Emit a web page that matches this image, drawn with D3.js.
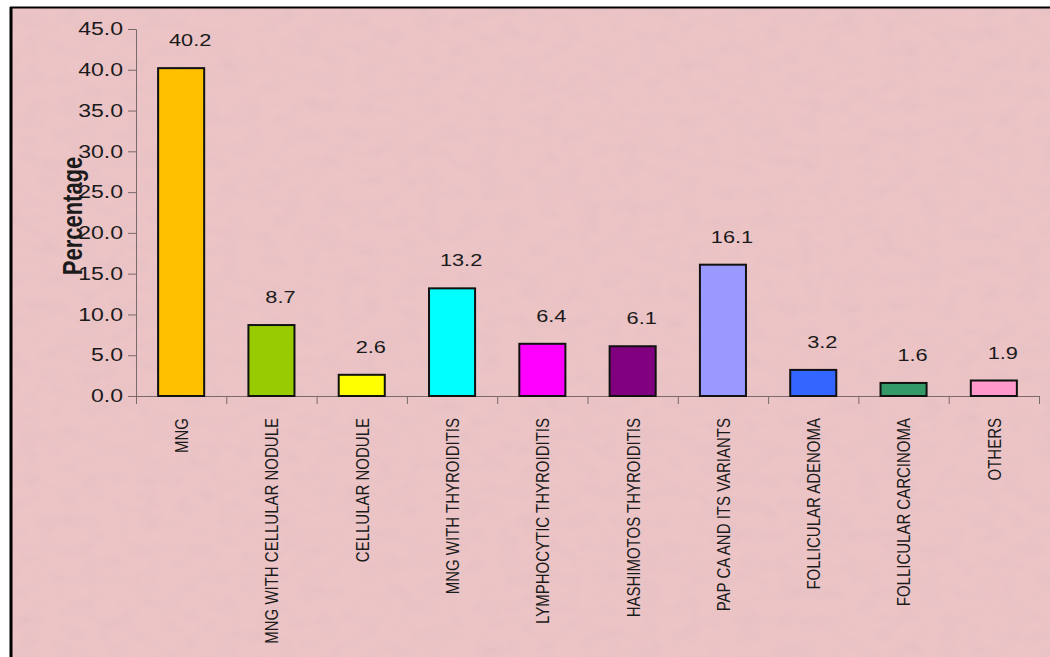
<!DOCTYPE html>
<html>
<head>
<meta charset="utf-8">
<script src="https://cdn.jsdelivr.net/npm/d3@7"></script>
<style>
  body { margin: 0; background: #fff; }
  text { font-family: "Liberation Sans", Arial, sans-serif; fill: #1a1a1a; }
</style>
</head>
<body>
<div class="chart"></div>
<script>
var svgWidth = 1050;
var svgHeight = 657;

// data
var categories = ["MNG", "MNG WITH CELLULAR NODULE", "CELLULAR NODULE", "MNG WITH THYROIDITIS",
  "LYMPHOCYTIC THYROIDITIS", "HASHIMOTOS THYROIDITIS", "PAP CA AND ITS VARIANTS",
  "FOLLICULAR ADENOMA", "FOLLICULAR CARCINOMA", "OTHERS"];
var percentages = [40.2, 8.7, 2.6, 13.2, 6.4, 6.1, 16.1, 3.2, 1.6, 1.9];
var barColors = ["#ffc000", "#99cc00", "#ffff00", "#00ffff", "#ff00ff", "#800080",
  "#9999ff", "#3366ff", "#339966", "#ff99cc"];
var yTicks = [0, 5, 10, 15, 20, 25, 30, 35, 40, 45];

var plotLeft = 136, plotRight = 1039, plotTop = 29, plotBottom = 396;
var stretch = 1.28; // the picture is a bit wider than tall

var svg = d3.select(".chart")
  .append("svg")
  .attr("width", svgWidth)
  .attr("height", svgHeight);

// mottled pink background
var defs = svg.append("defs");
var f = defs.append("filter").attr("id", "mottle")
  .attr("x", 0).attr("y", 0).attr("width", "100%").attr("height", "100%");
f.append("feTurbulence")
  .attr("type", "fractalNoise")
  .attr("baseFrequency", "0.05 0.07")
  .attr("numOctaves", 2)
  .attr("seed", 11);
f.append("feColorMatrix")
  .attr("type", "matrix")
  .attr("values", "0 0 0 0 0.72  0 0 0 0 0.5  0 0 0 0 0.53  2.0 0 0 0 -0.8");

svg.append("rect")
  .attr("x", 12).attr("y", 8)
  .attr("width", svgWidth - 12).attr("height", svgHeight - 8)
  .attr("fill", "#ecc4c6");
svg.append("rect")
  .attr("x", 12).attr("y", 8)
  .attr("width", svgWidth - 12).attr("height", svgHeight - 8)
  .attr("filter", "url(#mottle)")
  .attr("opacity", 0.4);

// black frame on left and top
svg.append("line")
  .attr("x1", 11).attr("x2", 11).attr("y1", 7).attr("y2", svgHeight)
  .attr("stroke", "#000").attr("stroke-width", 3);
svg.append("line")
  .attr("x1", 10).attr("x2", svgWidth).attr("y1", 7.5).attr("y2", 7.5)
  .attr("stroke", "#000").attr("stroke-width", 2);

// scales
var xBand = d3.scaleBand()
  .domain(categories)
  .range([plotLeft, plotRight])
  .paddingInner(0.49)
  .paddingOuter(0.245);

var yLinear = d3.scaleLinear()
  .domain([0, 45])
  .range([plotBottom, plotTop]);

// y axis
var yAxis = svg.append("g")
  .attr("transform", `translate(${plotLeft}, 0)`)
  .call(d3.axisLeft(yLinear).tickValues(yTicks).tickSize(8).tickFormat(d3.format(".1f")));
yAxis.select(".domain").attr("stroke", "#7a6a6c");
yAxis.selectAll(".tick line").attr("stroke", "#7a6a6c");
yAxis.selectAll(".tick text")
  .attr("x", 0)
  .attr("transform", `translate(-13, 0) scale(${stretch}, 1)`)
  .style("font-size", "18px")
  .style("font-family", "Liberation Sans, Arial, sans-serif")
  .attr("fill", "#1a1a1a");

// x axis with ticks between categories
var xIndex = d3.scaleLinear().domain([0, categories.length]).range([plotLeft, plotRight]);
var xAxis = svg.append("g")
  .attr("transform", `translate(0, ${plotBottom})`)
  .call(d3.axisBottom(xIndex).ticks(categories.length).tickSize(8).tickFormat(""));
xAxis.select(".domain").attr("d", `M${plotLeft - 8},0.5H${plotRight}`).attr("stroke", "#7a6a6c");
xAxis.selectAll(".tick line").attr("stroke", "#7a6a6c");

// bars
svg.append("g")
  .selectAll("rect")
  .data(percentages)
  .enter()
  .append("rect")
  .attr("x", (d, i) => xBand(categories[i]))
  .attr("y", d => yLinear(d))
  .attr("width", xBand.bandwidth())
  .attr("height", d => plotBottom - yLinear(d))
  .attr("fill", (d, i) => barColors[i])
  .attr("stroke", "#111")
  .attr("stroke-width", 2);

// value labels
svg.append("g")
  .selectAll("text")
  .data(percentages)
  .enter()
  .append("text")
  .attr("text-anchor", "middle")
  .attr("transform", (d, i) =>
    `translate(${xBand(categories[i]) + xBand.bandwidth() / 2 + 9}, ${yLinear(d) - 22}) scale(${stretch}, 1)`)
  .style("font-size", "17px")
  .text(d => d.toFixed(1));

// category labels
svg.append("g")
  .selectAll("text")
  .data(categories)
  .enter()
  .append("text")
  .attr("text-anchor", "end")
  .attr("dy", "0.36em")
  .attr("transform", d =>
    `translate(${xBand(d) + xBand.bandwidth() / 2}, 418) scale(${stretch}, 1) rotate(-90)`)
  .style("font-size", "15px")
  .text(d => d);

// y axis title
svg.append("text")
  .attr("text-anchor", "middle")
  .attr("transform", `translate(82, 216) scale(${stretch}, 1) rotate(-90)`)
  .style("font-size", "22px")
  .style("font-weight", "bold")
  .text("Percentage");
</script>
</body>
</html>
